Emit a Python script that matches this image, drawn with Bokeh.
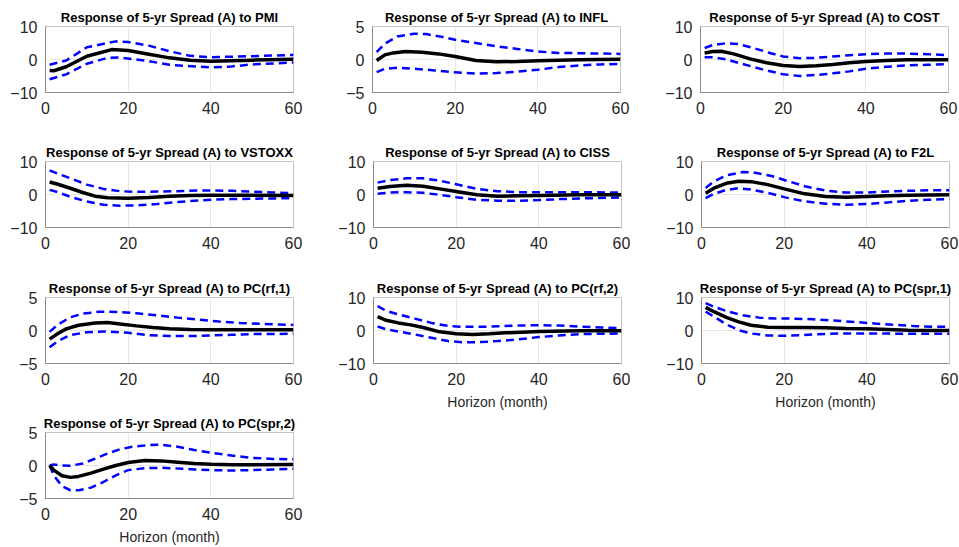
from bokeh.plotting import figure
from bokeh.layouts import column, row
from bokeh.models import Range1d, FixedTicker
from bokeh.embed import file_html
from bokeh.resources import INLINE

# ---------------- data ----------------
x_ticks = [0, 20, 40, 60]
x_label = "Horizon (month)"

# PMI
pmi_mid_h = [1, 2, 5, 10, 16, 20, 25, 30, 35, 40, 50, 60]
pmi_mid = [-3.3, -3.4, -2.2, 1.0, 3.0, 2.7, 1.6, 0.5, -0.2, -0.5, -0.2, 0.1]
pmi_up_h = [1, 5, 10, 17, 20, 25, 30, 35, 40, 50, 60]
pmi_up = [-1.6, -0.3, 3.7, 5.5, 5.3, 4.2, 2.5, 1.1, 0.7, 1.0, 1.4]
pmi_lo_h = [1, 5, 10, 15, 18, 25, 30, 40, 45, 50, 60]
pmi_lo = [-6.0, -4.5, -1.3, 0.5, 0.6, -0.5, -1.6, -2.4, -2.1, -1.5, -0.9]

# INFL
infl_mid_h = [1, 3, 5, 8, 12, 16, 20, 25, 30, 35, 40, 50, 60]
infl_mid = [-0.15, 0.7, 1.0, 1.2, 1.1, 0.85, 0.45, -0.15, -0.35, -0.3, -0.2, -0.05, 0.05]
infl_up_h = [1, 3, 6, 10, 13, 17, 20, 25, 30, 35, 40, 45, 50, 60]
infl_up = [1.1, 2.4, 3.5, 3.9, 3.85, 3.4, 3.0, 2.5, 2.0, 1.6, 1.2, 1.0, 0.95, 0.85]
infl_lo_h = [1, 3, 6, 10, 15, 20, 25, 30, 35, 40, 45, 50, 55, 60]
infl_lo = [-1.9, -1.4, -1.25, -1.4, -1.65, -1.95, -2.15, -2.05, -1.85, -1.55, -1.15, -0.9, -0.75, -0.65]

# COST
cost_mid_h = [1, 3, 5, 8, 12, 16, 20, 24, 28, 32, 36, 40, 45, 50, 55, 60]
cost_mid = [2.0, 2.4, 2.5, 1.7, 0.2, -1.0, -1.8, -2.1, -1.9, -1.5, -1.0, -0.6, -0.3, -0.1, -0.1, -0.1]
cost_up_h = [1, 3, 6, 9, 13, 17, 20, 24, 28, 32, 36, 40, 45, 50, 55, 60]
cost_up = [3.5, 4.4, 4.9, 4.7, 3.4, 1.9, 0.9, 0.4, 0.5, 0.9, 1.3, 1.6, 1.8, 1.8, 1.6, 1.3]
cost_lo_h = [1, 3, 6, 10, 15, 20, 24, 28, 32, 36, 40, 45, 50, 55, 60]
cost_lo = [0.7, 0.7, 0.1, -1.3, -3.0, -4.5, -5.0, -4.7, -4.2, -3.6, -2.8, -2.2, -1.8, -1.6, -1.4]

# VSTOXX
vst_mid_h = [1, 3, 6, 9, 12, 15, 20, 25, 30, 35, 40, 50, 60]
vst_mid = [3.8, 3.1, 1.9, 0.6, -0.5, -1.0, -1.1, -0.9, -0.5, -0.3, -0.2, -0.2, -0.3]
vst_up_h = [1, 3, 6, 10, 14, 18, 22, 27, 32, 37, 40, 45, 50, 55, 60]
vst_up = [7.3, 6.3, 4.9, 3.0, 1.7, 1.0, 0.8, 0.9, 1.0, 1.2, 1.2, 1.1, 0.9, 0.6, 0.4]
vst_lo_h = [1, 3, 6, 10, 14, 18, 22, 27, 32, 37, 40, 45, 50, 55, 60]
vst_lo = [1.4, 0.7, -0.7, -2.1, -3.1, -3.4, -3.3, -2.9, -2.3, -1.8, -1.6, -1.4, -1.3, -1.2, -1.1]

# CISS
ciss_mid_h = [1, 4, 8, 12, 16, 20, 25, 30, 35, 40, 50, 60]
ciss_mid = [1.9, 2.4, 2.8, 2.5, 1.7, 0.9, -0.1, -0.5, -0.4, -0.3, -0.1, -0.1]
ciss_up_h = [1, 4, 8, 12, 16, 20, 25, 30, 35, 40, 50, 60]
ciss_up = [3.6, 4.4, 4.9, 4.9, 4.2, 3.1, 1.7, 1.0, 0.7, 0.7, 0.7, 0.6]
ciss_lo_h = [1, 4, 8, 12, 16, 20, 25, 30, 35, 40, 45, 50, 60]
ciss_lo = [0.2, 0.6, 0.7, 0.5, -0.1, -0.8, -1.6, -1.9, -1.9, -1.7, -1.4, -1.2, -0.9]

# F2L
f2l_mid_h = [1, 3, 6, 9, 12, 16, 20, 25, 30, 35, 40, 45, 50, 60]
f2l_mid = [0.4, 1.9, 3.4, 4.0, 3.9, 3.0, 1.7, 0.2, -0.6, -0.8, -0.6, -0.4, -0.2, -0.1]
f2l_up_h = [1, 3, 6, 10, 13, 17, 20, 25, 30, 35, 40, 45, 50, 55, 60]
f2l_up = [2.0, 4.0, 5.8, 6.8, 6.6, 5.6, 4.4, 2.5, 1.2, 0.6, 0.6, 0.9, 1.1, 1.3, 1.3]
f2l_lo_h = [1, 3, 6, 9, 12, 16, 20, 25, 30, 35, 40, 45, 50, 55, 60]
f2l_lo = [-1.1, 0.2, 1.4, 1.9, 1.5, 0.5, -0.8, -2.1, -2.8, -3.1, -2.9, -2.4, -1.9, -1.6, -1.4]

# PC(rf,1)
rf1_mid_h = [1, 3, 5, 8, 12, 15, 18, 22, 26, 30, 35, 40, 50, 60]
rf1_mid = [-1.3, -0.45, 0.25, 0.8, 1.15, 1.2, 1.0, 0.7, 0.45, 0.25, 0.15, 0.1, 0.1, 0.1]
rf1_up_h = [1, 3, 6, 9, 13, 18, 22, 27, 32, 37, 42, 47, 52, 60]
rf1_up = [-0.2, 0.9, 2.0, 2.55, 2.85, 2.8, 2.6, 2.3, 1.95, 1.65, 1.35, 1.15, 1.0, 0.85]
rf1_lo_h = [1, 3, 6, 10, 15, 20, 25, 30, 35, 40, 45, 50, 60]
rf1_lo = [-2.55, -1.6, -0.7, -0.25, -0.15, -0.35, -0.7, -0.85, -0.85, -0.75, -0.65, -0.55, -0.5]

# PC(rf,2)
rf2_mid_h = [1, 3, 6, 9, 12, 16, 20, 24, 28, 32, 36, 40, 50, 60]
rf2_mid = [4.2, 3.1, 2.3, 1.7, 0.9, -0.4, -1.0, -1.2, -1.0, -0.7, -0.5, -0.3, -0.1, -0.1]
rf2_up_h = [1, 3, 6, 10, 14, 18, 22, 26, 30, 35, 40, 45, 50, 55, 60]
rf2_up = [7.4, 6.0, 4.9, 3.6, 2.3, 1.4, 1.1, 1.1, 1.3, 1.5, 1.6, 1.5, 1.2, 0.9, 0.7]
rf2_lo_h = [1, 3, 6, 10, 14, 18, 22, 26, 30, 35, 40, 45, 50, 55, 60]
rf2_lo = [1.2, 0.4, -0.3, -1.2, -2.2, -3.2, -3.6, -3.5, -3.2, -2.7, -2.0, -1.5, -1.1, -1.0, -0.9]

# PC(spr,1)
spr1_mid_h = [1, 3, 6, 9, 12, 16, 20, 25, 30, 35, 40, 45, 50, 55, 60]
spr1_mid = [7.0, 5.7, 4.0, 2.6, 1.6, 1.0, 0.9, 0.9, 0.8, 0.6, 0.5, 0.3, 0.1, 0.0, 0.0]
spr1_up_h = [1, 3, 6, 10, 14, 18, 22, 27, 32, 37, 42, 47, 52, 57, 60]
spr1_up = [8.3, 7.2, 5.9, 4.6, 3.9, 3.6, 3.6, 3.4, 3.0, 2.6, 2.1, 1.7, 1.3, 1.1, 1.1]
spr1_lo_h = [1, 3, 6, 9, 12, 16, 20, 24, 28, 33, 38, 43, 50, 55, 60]
spr1_lo = [5.7, 4.2, 1.9, 0.1, -0.9, -1.5, -1.6, -1.4, -1.1, -0.9, -0.9, -0.9, -1.0, -1.0, -1.0]

# PC(spr,2)
spr2_mid_h = [1, 2, 4, 6, 8, 11, 14, 17, 20, 24, 28, 32, 36, 40, 45, 50, 60]
spr2_mid = [0.0, -0.7, -1.55, -1.8, -1.65, -1.15, -0.55, 0.0, 0.45, 0.75, 0.7, 0.5, 0.3, 0.2, 0.1, 0.1, 0.15]
spr2_up_h = [1, 2, 4, 6, 9, 12, 15, 18, 21, 25, 28, 32, 36, 40, 45, 50, 55, 60]
spr2_up = [0.0, 0.15, 0.0, -0.05, 0.3, 1.05, 1.8, 2.45, 2.85, 3.1, 3.15, 2.85, 2.35, 1.95, 1.5, 1.15, 1.0, 0.95]
spr2_lo_h = [1, 2, 4, 6, 8, 11, 14, 17, 20, 24, 28, 32, 36, 40, 45, 50, 55, 60]
spr2_lo = [0.0, -1.5, -3.15, -3.75, -3.75, -3.35, -2.5, -1.5, -0.7, -0.4, -0.35, -0.45, -0.6, -0.7, -0.75, -0.7, -0.6, -0.5]

panels = [
    ("Response of 5-yr Spread (A) to PMI", 10, pmi_mid_h, pmi_mid, pmi_up_h, pmi_up, pmi_lo_h, pmi_lo),
    ("Response of 5-yr Spread (A) to INFL", 5, infl_mid_h, infl_mid, infl_up_h, infl_up, infl_lo_h, infl_lo),
    ("Response of 5-yr Spread (A) to COST", 10, cost_mid_h, cost_mid, cost_up_h, cost_up, cost_lo_h, cost_lo),
    ("Response of 5-yr Spread (A) to VSTOXX", 10, vst_mid_h, vst_mid, vst_up_h, vst_up, vst_lo_h, vst_lo),
    ("Response of 5-yr Spread (A) to CISS", 10, ciss_mid_h, ciss_mid, ciss_up_h, ciss_up, ciss_lo_h, ciss_lo),
    ("Response of 5-yr Spread (A) to F2L", 10, f2l_mid_h, f2l_mid, f2l_up_h, f2l_up, f2l_lo_h, f2l_lo),
    ("Response of 5-yr Spread (A) to PC(rf,1)", 5, rf1_mid_h, rf1_mid, rf1_up_h, rf1_up, rf1_lo_h, rf1_lo),
    ("Response of 5-yr Spread (A) to PC(rf,2)", 10, rf2_mid_h, rf2_mid, rf2_up_h, rf2_up, rf2_lo_h, rf2_lo),
    ("Response of 5-yr Spread (A) to PC(spr,1)", 10, spr1_mid_h, spr1_mid, spr1_up_h, spr1_up, spr1_lo_h, spr1_lo),
    ("Response of 5-yr Spread (A) to PC(spr,2)", 5, spr2_mid_h, spr2_mid, spr2_up_h, spr2_up, spr2_lo_h, spr2_lo),
]
with_xlabel = {7, 8, 9}

FONT = "Liberation Sans"
TXT = "#262626"


def make_panel(i, left_border, right_border, top_border, bottom_border):
    title, lim, mh, m, uh, u, lh, l = panels[i]
    p = figure(
        output_backend="svg", toolbar_location=None,
        frame_width=248, frame_height=66,
        min_border_left=left_border, min_border_right=right_border,
        min_border_top=top_border, min_border_bottom=bottom_border,
        x_range=Range1d(0, 60), y_range=Range1d(-lim, lim),
        background_fill_color="white", border_fill_color="white",
    )
    p.title.text = title
    p.title.align = "center"
    p.title.text_font = FONT
    p.title.text_font_style = "bold"
    p.title.text_font_size = "13px"
    p.title.text_color = "black"
    p.title.text_line_height = 1.0
    p.title.standoff = 3

    p.xaxis.ticker = FixedTicker(ticks=x_ticks)
    p.yaxis.ticker = FixedTicker(ticks=[-lim, 0, lim])
    for ax in (p.xaxis[0], p.yaxis[0]):
        ax.axis_line_color = "#8c8c8c"
        ax.major_tick_line_color = None
        ax.minor_tick_line_color = None
        ax.major_tick_in = 0
        ax.major_tick_out = 0
        ax.major_label_text_font = FONT
        ax.major_label_text_font_size = "16px"
        ax.major_label_text_color = TXT
    p.xaxis.major_label_standoff = 9
    p.yaxis.major_label_standoff = 8
    if i in with_xlabel:
        p.xaxis.axis_label = x_label
        p.xaxis.axis_label_text_font = FONT
        p.xaxis.axis_label_text_font_size = "14px"
        p.xaxis.axis_label_text_font_style = "normal"
        p.xaxis.axis_label_text_color = TXT
        p.xaxis.axis_label_standoff = 6
    p.outline_line_color = "#c4c4c4"
    p.outline_line_width = 1
    p.grid.grid_line_color = "#e8e8e8"
    p.grid.grid_line_width = 1

    p.line(uh, u, line_color="#0000ff", line_width=2.5, line_dash="8 5")
    p.line(lh, l, line_color="#0000ff", line_width=2.5, line_dash="8 5")
    p.line(mh, m, line_color="black", line_width=3.5)
    return p


tops = [26, 20, 20, 20]
bottoms = [49, 50, 49, 48]
lefts = [45, 37, 37]
rights = [42, 42, 10]
rows = []
for r in range(4):
    figs = []
    for c in range(3):
        i = r * 3 + c
        if i >= len(panels):
            break
        figs.append(make_panel(i, lefts[c], rights[c], tops[r], bottoms[r]))
    rows.append(row(*figs))

layout = column(*rows)
open("out.html", "w").write(file_html(layout, INLINE))
